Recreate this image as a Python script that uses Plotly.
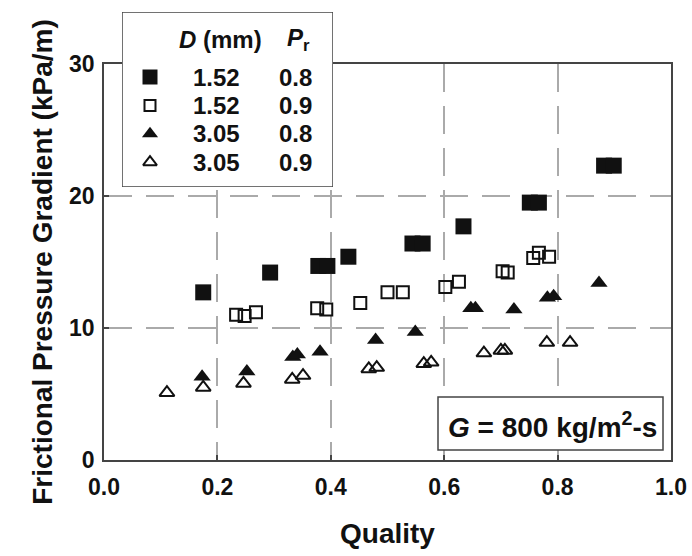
import plotly.graph_objects as go

# ---- data ----
fs_x = [0.175, 0.293, 0.378, 0.394, 0.431, 0.544, 0.562, 0.634, 0.751, 0.767, 0.882, 0.899]
fs_y = [12.7, 14.2, 14.7, 14.7, 15.4, 16.4, 16.4, 17.7, 19.5, 19.5, 22.3, 22.3]

os_x = [0.233, 0.248, 0.268, 0.376, 0.392, 0.452, 0.500, 0.527, 0.602, 0.626, 0.703, 0.712, 0.757, 0.767, 0.785]
os_y = [11.0, 10.9, 11.2, 11.5, 11.4, 11.9, 12.7, 12.7, 13.1, 13.5, 14.3, 14.2, 15.3, 15.7, 15.4]

ft_x = [0.173, 0.252, 0.333, 0.341, 0.381, 0.479, 0.549, 0.647, 0.655, 0.723, 0.782, 0.793, 0.873]
ft_y = [6.3, 6.7, 7.8, 8.0, 8.2, 9.1, 9.7, 11.5, 11.5, 11.4, 12.3, 12.4, 13.4]

ot_x = [0.111, 0.175, 0.246, 0.332, 0.351, 0.467, 0.481, 0.564, 0.577, 0.670, 0.700, 0.707, 0.781, 0.822]
ot_y = [5.1, 5.5, 5.8, 6.1, 6.4, 6.9, 7.0, 7.3, 7.4, 8.1, 8.3, 8.3, 8.9, 8.9]

series_D = ["1.52", "1.52", "3.05", "3.05"]
series_Pr = ["0.8", "0.9", "0.8", "0.9"]

x_ticks = [0.0, 0.2, 0.4, 0.6, 0.8, 1.0]
y_ticks = [0, 10, 20, 30]

FONT = "Liberation Sans, Arial, sans-serif"
INK = "#111111"
LINE = "#444444"

# ---- layout geometry (pixels) ----
W, H = 692, 556
ML, MR, MT, MB = 104, 21, 12, 96
PW, PH = W - ML - MR, H - MT - MB          # paper area
PLOT_H = 460 - 64                           # main plot height
# legend box in pixels
LB_L, LB_R, LB_T, LB_B = 122, 333, 12, 187
ROW0, ROWSTEP = 77, 28.4                    # first row centre, row spacing
HEAD_Y = 39

def row_of(py):
    return (py - ROW0) / ROWSTEP

leg_y_range = [row_of(LB_B), row_of(LB_T)]
leg_x_range = [0, LB_R - LB_L]
COL_SYM, COL_D, COL_P = 28, 94, 173

styles = [
    dict(symbol="square", size=16, line_w=0),
    dict(symbol="square-open", size=12, line_w=2),
    dict(symbol="triangle-up", size=15, line_w=0),
    dict(symbol="triangle-up-open", size=13, line_w=2),
]
data = [(fs_x, fs_y), (os_x, os_y), (ft_x, ft_y), (ot_x, ot_y)]

fig = go.Figure()
for i, ((xs, ys), st) in enumerate(zip(data, styles)):
    fig.add_trace(go.Scatter(
        x=xs, y=ys, mode="markers", showlegend=False,
        name=f"D={series_D[i]} mm, Pr={series_Pr[i]}",
        marker=dict(symbol=st["symbol"], color=INK, size=st["size"],
                    line=dict(color=INK, width=st["line_w"])),
    ))

# legend keys on an overlay axis (one key per series row)
rows = list(range(len(series_D)))
for i, st in enumerate(styles):
    fig.add_trace(go.Scatter(
        x=[COL_SYM], y=[rows[i]], xaxis="x2", yaxis="y2", mode="markers",
        showlegend=False, hoverinfo="skip",
        marker=dict(symbol=st["symbol"], color=INK, size=st["size"] - 1,
                    line=dict(color=INK, width=st["line_w"])),
    ))

tickfont = dict(family=FONT, size=23, color=INK, weight="bold")
axis_common = dict(
    showline=True, linecolor=LINE, linewidth=1.5, mirror=True,
    ticks="inside", ticklen=5, tickcolor=LINE, tickwidth=1.5,
    showgrid=True, gridcolor="#aaaaaa", gridwidth=1.5, griddash="28px,14px",
    zeroline=False, tickfont=tickfont, automargin=False,
)
hidden = dict(showgrid=False, zeroline=False, showline=False,
              showticklabels=False, ticks="", fixedrange=True, automargin=False)

legfont = dict(family=FONT, size=24, color=INK, weight="bold")
annotations = []
for i in rows:
    annotations.append(dict(xref="x2", yref="y2", x=COL_D, y=rows[i], text=series_D[i],
                            showarrow=False, xanchor="center", yanchor="middle", font=legfont))
    annotations.append(dict(xref="x2", yref="y2", x=COL_P, y=rows[i], text=series_Pr[i],
                            showarrow=False, xanchor="center", yanchor="middle", font=legfont))
annotations += [
    dict(xref="x2", yref="y2", x=98, y=row_of(HEAD_Y), text="<i>D</i> (mm)",
         showarrow=False, xanchor="center", yanchor="middle", font=legfont),
    dict(xref="x2", yref="y2", x=176, y=row_of(HEAD_Y), text="<i>P</i><sub>r</sub>",
         showarrow=False, xanchor="center", yanchor="middle", font=legfont),
    dict(xref="paper", yref="paper", x=(552 - ML) / PW, y=(H - MB - 425) / PH,
         text="<i>G</i> = 800 kg/m<sup>2</sup>-s", showarrow=False,
         xanchor="center", yanchor="middle",
         font=dict(family=FONT, size=28, color=INK, weight="bold")),
]

def py_to_paper(py):
    return (H - MB - py) / PH

fig.update_layout(
    width=W, height=H,
    margin=dict(l=ML, r=MR, t=MT, b=MB, autoexpand=False),
    plot_bgcolor="white", paper_bgcolor="white",
    showlegend=False,
    xaxis=dict(range=[0, 1.0], tickvals=x_ticks, tickformat=".1f",
               ticklabelstandoff=6, domain=[0, 1], anchor="y",
               title=dict(text="Quality", standoff=24,
                          font=dict(family=FONT, size=28, color=INK, weight="bold")),
               **axis_common),
    yaxis=dict(range=[0, 30], tickvals=y_ticks, ticklabelstandoff=3,
               domain=[0, PLOT_H / PH], anchor="x",
               title=dict(text="Frictional Pressure Gradient (kPa/m)", standoff=8,
                          font=dict(family=FONT, size=28, color=INK, weight="bold")),
               **axis_common),
    xaxis2=dict(domain=[(LB_L - ML) / PW, (LB_R - ML) / PW], range=leg_x_range,
                anchor="y2", **hidden),
    yaxis2=dict(domain=[py_to_paper(LB_B), py_to_paper(LB_T)],
                range=leg_y_range, anchor="x2", **hidden),
    shapes=[
        dict(type="rect", xref="x2", yref="y2",
             x0=leg_x_range[0], x1=leg_x_range[1], y0=leg_y_range[0], y1=leg_y_range[1],
             line=dict(color=LINE, width=1.5), fillcolor="white", layer="below"),
        dict(type="rect", xref="paper", yref="paper",
             x0=(438 - ML) / PW, x1=(663 - ML) / PW,
             y0=py_to_paper(450), y1=py_to_paper(397),
             line=dict(color=LINE, width=1.5), fillcolor="white", layer="above"),
    ],
    annotations=annotations,
)

fig.write_html("out.html")
